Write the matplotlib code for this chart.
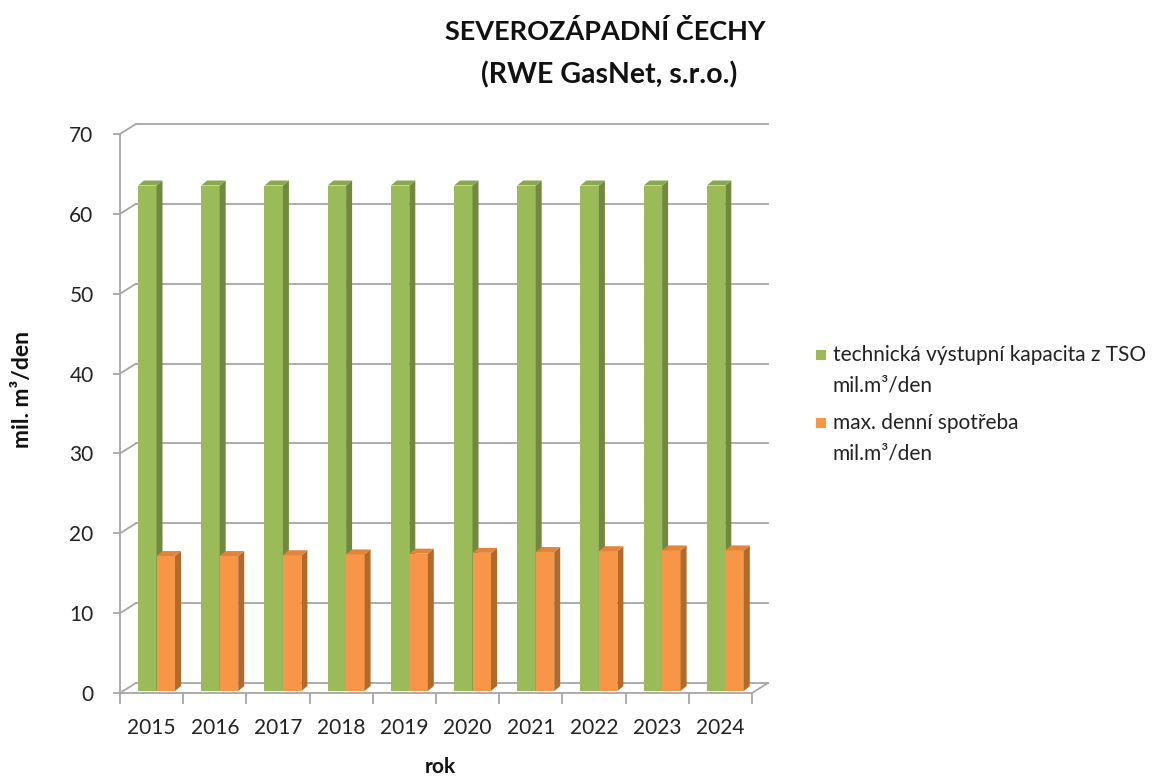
import matplotlib
matplotlib.use("Agg")
import matplotlib.pyplot as plt
from matplotlib.patches import Polygon, Rectangle

plt.rcParams['font.family'] = ['Lato', 'DejaVu Sans']

years = ['2015', '2016', '2017', '2018', '2019', '2020', '2021', '2022', '2023', '2024']
kapacita = [63.3, 63.3, 63.3, 63.3, 63.3, 63.3, 63.3, 63.3, 63.3, 63.3]
spotreba = [16.9, 16.9, 17.0, 17.1, 17.2, 17.3, 17.4, 17.5, 17.6, 17.6]
series_labels = ['technická výstupní kapacita z TSO\nmil.m³/den',
                 'max. denní spotřeba\nmil.m³/den']
title = 'SEVEROZÁPADNÍ ČECHY\n(RWE GasNet, s.r.o.)'
yticks = [0, 10, 20, 30, 40, 50, 60, 70]

W, H = 1155, 776
fig = plt.figure(figsize=(W / 100, H / 100), dpi=100)
x0, x1, y0, y1 = 120, 752, 693, 134
ax = fig.add_axes([x0 / W, (H - y0) / H, (x1 - x0) / W, (y0 - y1) / H])
n = len(years)
ax.set_xlim(0, n)
ax.set_ylim(0, 70)
pxx = (x1 - x0) / n      # px per category
pxy = (y0 - y1) / 70.0   # px per unit

def ux(p):
    return p / pxx

def uy(p):
    return p / pxy

grid_c = '#a6a6a6'
# wall depth offset
wdx, wdy = ux(16), uy(10)
for v in yticks:
    ax.plot([wdx, n + wdx], [v + wdy, v + wdy], color=grid_c, lw=1.3, zorder=1, clip_on=False)
    ax.plot([0, wdx], [v, v + wdy], color=grid_c, lw=1.3, zorder=1, clip_on=False)
ax.plot([n, n + wdx], [0, wdy], color=grid_c, lw=1.3, zorder=1, clip_on=False)

for s in ['top', 'right']:
    ax.spines[s].set_visible(False)
for s in ['left', 'bottom']:
    ax.spines[s].set_color(grid_c)
    ax.spines[s].set_linewidth(1.3)

ax.set_yticks(yticks)
ax.set_yticklabels([str(v) for v in yticks])
ax.tick_params(axis='y', length=5, width=1.3, color=grid_c, labelsize=15, pad=14, labelcolor='#222222')
ax.set_xticks(range(n + 1))
ax.set_xticklabels([''] * (n + 1))
ax.set_xticks([i + 0.5 for i in range(n)], minor=True)
ax.set_xticklabels(years, minor=True)
ax.tick_params(axis='x', which='major', length=8, width=1.3, color=grid_c)
ax.tick_params(axis='x', which='minor', length=0, labelsize=15, pad=18, labelcolor='#222222')

# 3D bars
bw = ux(18.5)
bdx, bdy = ux(6), uy(5)
base_dx, base_dy = ux(1), uy(2)
g_off = ux(17)
styles = [('#9bbb59', '#71893f', '#8aa94c'), ('#f79646', '#b2692c', '#e2843a')]

def bar3d(xl, h, cols, z):
    front, side, top = cols
    xb, yb = xl + base_dx, base_dy
    ax.bar([xb], [h], bottom=yb, width=bw, align='edge', color=front, lw=0, zorder=z, clip_on=False)
    ax.add_patch(Polygon([(xb + bw, yb), (xb + bw, yb + h), (xb + bw + bdx, yb + h + bdy),
                          (xb + bw + bdx, yb + bdy)], closed=True, fc=side, lw=0, zorder=z, clip_on=False))
    ax.add_patch(Polygon([(xb, yb + h), (xb + bw, yb + h), (xb + bw + bdx, yb + h + bdy),
                          (xb + bdx, yb + h + bdy)], closed=True, fc=top, lw=0, zorder=z, clip_on=False))

for i in range(n):
    bar3d(i + g_off, kapacita[i], styles[0], 3 + 2 * i)
    bar3d(i + g_off + bw, spotreba[i], styles[1], 4 + 2 * i)

t1, t2 = title.split('\n')
fig.text(605 / W, 1 - 32 / H, t1, ha='center', va='center',
         fontsize=19.5, fontweight='bold', color='#111111')
fig.text(609 / W, 1 - 75 / H, t2, ha='center', va='center',
         fontsize=20.5, fontweight='bold', color='#111111')
fig.text(22 / W, 1 - 390 / H, 'mil. m³/den', rotation=90, ha='center', va='center',
         fontsize=16.5, fontweight='bold', color='#111111')
fig.text(440 / W, 1 - 767 / H, 'rok', ha='center', va='center',
         fontsize=15, fontweight='bold', color='#111111')

# legend
leg_rows = [(355, 385), (423, 453)]
for (ya, yb2), lab, st in zip(leg_rows, series_labels, styles):
    fig.patches.append(Rectangle((816 / W, 1 - (ya + 5) / H), 10 / W, 10 / H,
                                 transform=fig.transFigure, fc=st[0], lw=0))
    l1, l2 = lab.split('\n')
    fig.text(833 / W, 1 - ya / H, l1, ha='left', va='center', fontsize=15, color='#222222')
    fig.text(833 / W, 1 - yb2 / H, l2, ha='left', va='center', fontsize=15, color='#222222')

fig.savefig('out.png', dpi=100)
